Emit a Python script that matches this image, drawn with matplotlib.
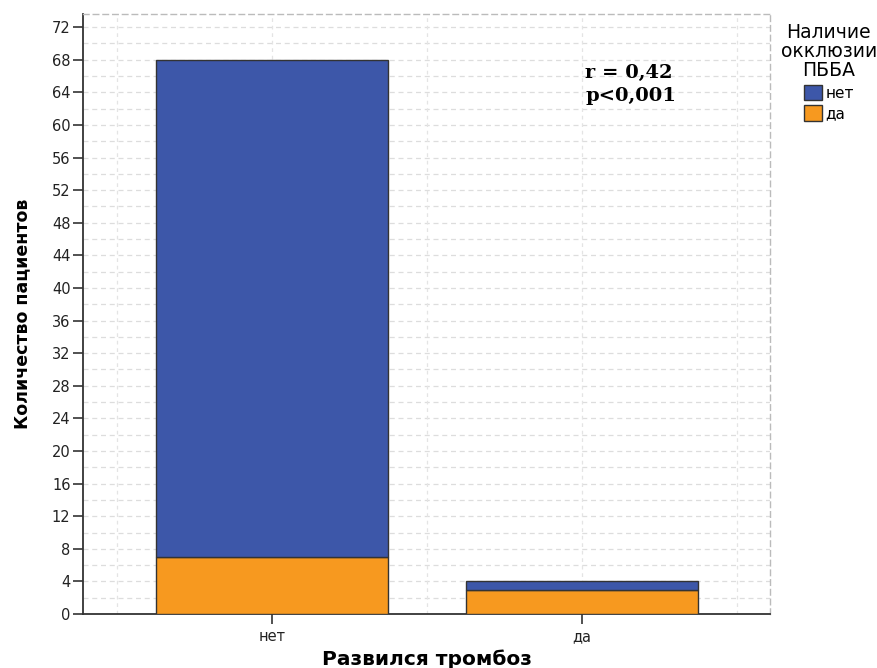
import matplotlib
matplotlib.use("Agg")
import matplotlib.pyplot as plt
import numpy as np
from matplotlib.patches import Patch

# Patient counts by thrombosis outcome, split by ПББА occlusion status
categories = ["нет", "да"]
occlusion_no = [61, 1]
occlusion_yes = [7, 3]
series_labels = ["нет", "да"]
yticks = list(range(0, 73, 4))

blue = "#3D57A9"
orange = "#F7991F"

plt.rcParams["font.family"] = ["DejaVu Sans"]

fig = plt.figure(figsize=(8.78, 6.68), dpi=100)
ax = fig.add_axes([0.0945, 0.0808, 0.7825, 0.8982])

x = np.arange(len(categories))
ax.bar(x, occlusion_yes, width=0.75, color=orange, edgecolor="#333333", linewidth=1.0, zorder=3)
ax.bar(x, occlusion_no, width=0.75, bottom=occlusion_yes, color=blue, edgecolor="#333333",
       linewidth=1.0, zorder=3)

ax.set_xlim(-0.61, 1.606)
ax.set_ylim(0, 73.6)
ax.set_yticks(yticks)
ax.set_yticklabels([str(v) for v in yticks], fontsize=10.5, color="#222222")
ax.set_xticks(x)
ax.set_xticklabels(categories, fontsize=10.5, color="#222222")

# dashed grid every 2 units and every half category
for yv in np.arange(2, 73.6, 2):
    ax.axhline(yv, color="#DDDDDD", linestyle=(0, (4, 3)), linewidth=0.9, zorder=1)
for xv in [-0.5, 0, 0.5, 1, 1.5]:
    ax.axvline(xv, color="#E4E4E4", linestyle=(0, (3, 3)), linewidth=0.9, zorder=1)

ax.tick_params(axis="y", direction="out", length=7, width=1.2, color="#333333", pad=2)
ax.tick_params(axis="x", direction="out", length=7, width=1.2, color="#333333", pad=4)

ax.spines["left"].set_color("#333333")
ax.spines["left"].set_linewidth(1.3)
ax.spines["bottom"].set_color("#333333")
ax.spines["bottom"].set_linewidth(1.3)
for side in ["top", "right"]:
    ax.spines[side].set_color("#BBBBBB")
    ax.spines[side].set_linestyle((0, (4, 3)))
    ax.spines[side].set_linewidth(1.0)

ax.set_ylabel("Количество пациентов", fontsize=12.5, fontweight="bold", labelpad=15)
ax.set_xlabel("Развился тромбоз", fontsize=14.5, fontweight="bold", labelpad=4)

ax.text(1.01, 67.5, "r = 0,42\np<0,001", fontsize=14, fontweight="bold",
        family=["DejaVu Serif"], va="top", ha="left", linespacing=1.4)

handles = [Patch(facecolor=blue, edgecolor="#333333", linewidth=1.0),
           Patch(facecolor=orange, edgecolor="#333333", linewidth=1.0)]
leg = fig.legend(handles, series_labels, title="Наличие\nокклюзии\nПББА",
                 loc="upper center", bbox_to_anchor=(0.944, 0.965), frameon=False,
                 fontsize=11, title_fontsize=13.5, handlelength=1.2, handleheight=1.2,
                 handletextpad=0.2, labelspacing=0.3, borderaxespad=0, borderpad=0)
leg.get_title().set_multialignment("center")
leg.get_title().set_linespacing(1.0)
leg._legend_box.align = "center"
leg._legend_box.sep = 3

fig.savefig("out.png", dpi=100)
